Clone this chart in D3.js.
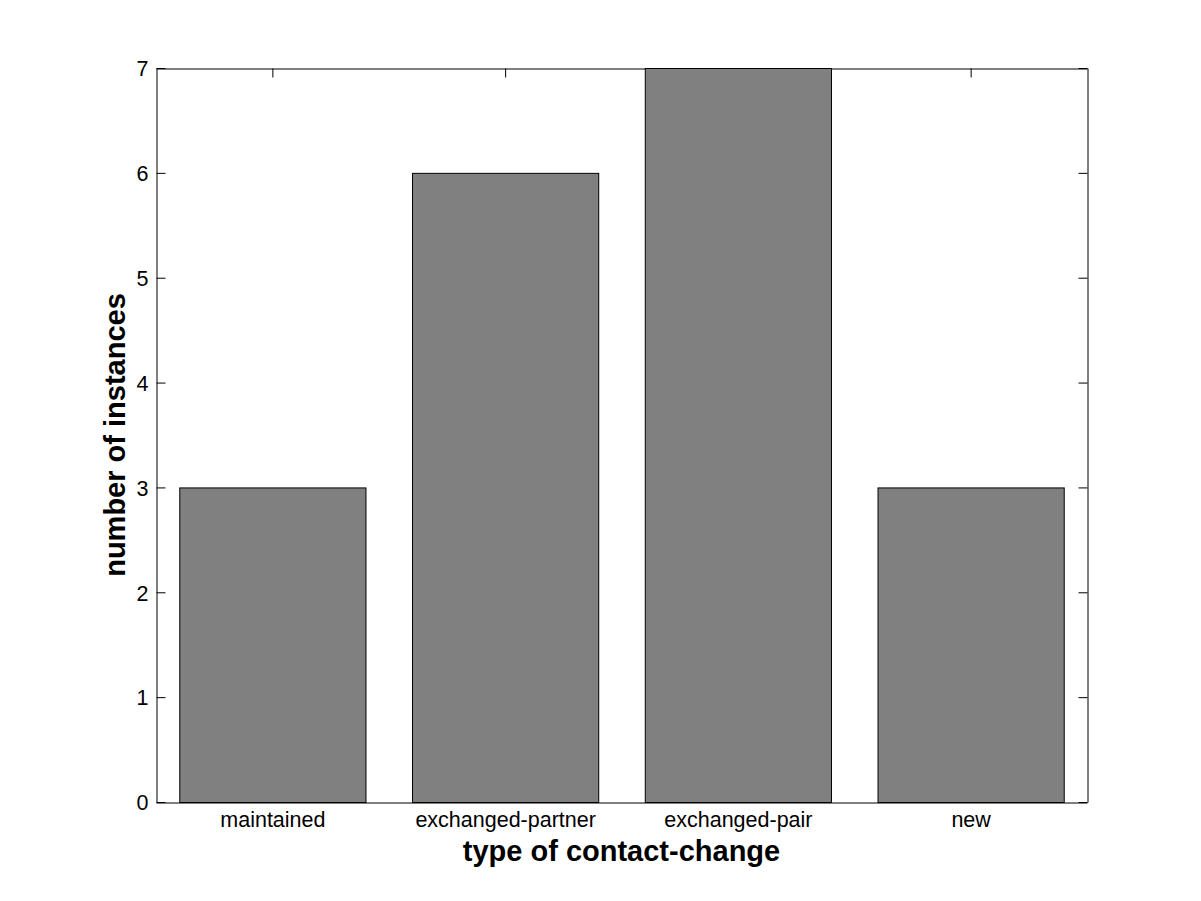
<!DOCTYPE html>
<html>
<head>
<meta charset="utf-8">
<script src="https://cdn.jsdelivr.net/npm/d3@7"></script>
<style>
html,body{margin:0;padding:0;background:#fff;}
svg{display:block;}
text{font-family:"Liberation Sans",Arial,Helvetica,sans-serif;fill:#000;}
</style>
</head>
<body>
<svg id="chart" width="1201" height="901"></svg>
<script>
const categories = ["maintained", "exchanged-partner", "exchanged-pair", "new"];
const values = [3, 6, 7, 3];
const yTicks = [0, 1, 2, 3, 4, 5, 6, 7];
const xLabel = "type of contact-change";
const yLabel = "number of instances";

const svg = d3.select("#chart");
const W = 1201, H = 901;
const m = {left: 156, right: W - 1087, top: 68, bottom: H - 802};
const iw = W - m.left - m.right, ih = H - m.top - m.bottom;

svg.append("rect").attr("width", W).attr("height", H).attr("fill", "#fff");
const g = svg.append("g").attr("transform", `translate(${m.left},${m.top})`);

// linear x scale mimicking MATLAB xlim [0.5, 4.5]
const x = d3.scaleLinear().domain([0.5, categories.length + 0.5]).range([0, iw]);
const y = d3.scaleLinear().domain([0, 7]).range([ih, 0]);
const barW = 0.8;

const tickLen = 9;
const fontSize = 21.5;

// Axes drawn first (beneath the bars, like MATLAB's default layer)
const yAxisL = d3.axisLeft(y).tickValues(yTicks).tickFormat(d3.format("d")).tickSizeInner(-tickLen).tickSizeOuter(0).tickPadding(8);
const gl = g.append("g").attr("transform", "translate(0.5,0)").call(yAxisL);
const yAxisR = d3.axisRight(y).tickValues(yTicks).tickFormat("").tickSizeInner(-tickLen).tickSizeOuter(0);
const gr = g.append("g").attr("transform", `translate(${iw + 0.5},0)`).call(yAxisR);
const xAxisB = d3.axisBottom(x).tickValues(d3.range(1, categories.length + 1)).tickFormat(d => categories[d - 1]).tickSizeInner(-tickLen).tickSizeOuter(0).tickPadding(9);
const gb = g.append("g").attr("transform", `translate(0,${ih + 0.5})`).call(xAxisB);
const xAxisT = d3.axisTop(x).tickValues(d3.range(1, categories.length + 1)).tickFormat("").tickSizeInner(-tickLen).tickSizeOuter(0);
const gt = g.append("g").attr("transform", "translate(0,0.5)").call(xAxisT);

[gl, gr, gb, gt].forEach(a => {
  a.selectAll("path.domain").attr("stroke", "#000").attr("stroke-width", 1);
  a.selectAll(".tick line").attr("stroke", "#000").attr("stroke-width", 1);
  a.selectAll(".tick text").attr("font-size", fontSize).attr("font-family", "'Liberation Sans', Arial, sans-serif").attr("fill", "#000");
});
gl.selectAll(".tick text").attr("dy", "0.36em");

g.selectAll("rect.bar").data(values).enter().append("rect")
  .attr("class", "bar")
  .attr("x", (d, i) => x(i + 1 - barW / 2) + 0.5)
  .attr("width", (d, i) => x(i + 1 + barW / 2) - x(i + 1 - barW / 2))
  .attr("y", d => y(d) + 0.5)
  .attr("height", d => y(0) - y(d))
  .attr("fill", "#808080")
  .attr("stroke", "#000")
  .attr("stroke-width", 1);

// Axis labels
svg.append("text")
  .attr("x", m.left + iw / 2).attr("y", 861)
  .attr("text-anchor", "middle")
  .attr("font-size", 29).attr("font-weight", "bold")
  .text(xLabel);

svg.append("text")
  .attr("transform", `translate(125,${m.top + ih / 2}) rotate(-90)`)
  .attr("text-anchor", "middle")
  .attr("font-size", 29).attr("font-weight", "bold")
  .text(yLabel);
</script>
</body>
</html>
